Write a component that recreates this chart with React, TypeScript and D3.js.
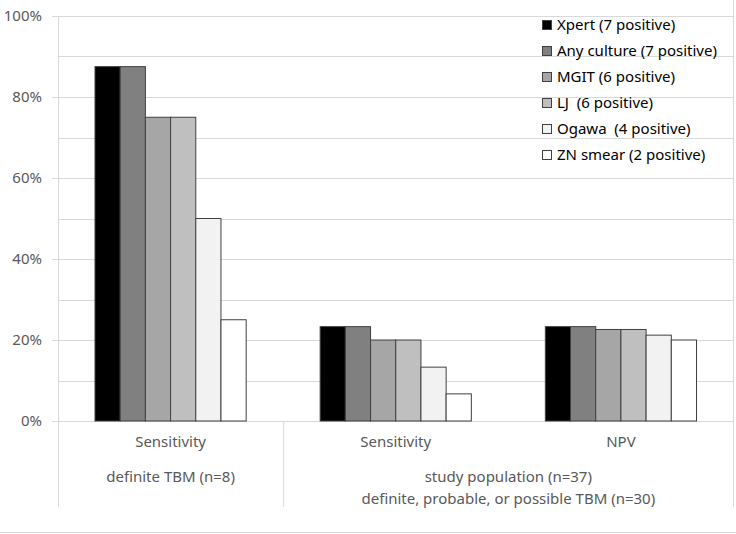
import React from "react";
import * as d3 from "d3";

const categories = ["Sensitivity (definite)", "Sensitivity (study)", "NPV"];
const categoryLabels = ["Sensitivity", "Sensitivity", "NPV"];
const seriesNames = [
  "Xpert (7 positive)",
  "Any culture (7 positive)",
  "MGIT (6 positive)",
  "LJ  (6 positive)",
  "Ogawa  (4 positive)",
  "ZN smear (2 positive)",
];
const seriesColors = ["#000000", "#808080", "#a6a6a6", "#bfbfbf", "#f2f2f2", "#ffffff"];
// values per series across categories
const xpert = [87.5, 23.3, 23.3];
const anyCulture = [87.5, 23.3, 23.3];
const mgit = [75, 20, 22.6];
const lj = [75, 20, 22.6];
const ogawa = [50, 13.3, 21.2];
const znSmear = [25, 6.7, 20];
const seriesValues = [xpert, anyCulture, mgit, lj, ogawa, znSmear];
const yTicks = [0, 20, 40, 60, 80, 100];
const yMinor = [10, 30, 50, 70, 90];

const W = 736;
const H = 534;
const left = 58;
const right = 733.5;
const top = 16;
const bottom = 421;
const font = "'Noto Sans', sans-serif";

export default function App() {
  const x0 = d3.scaleBand<string>().domain(categories).range([left, right]).paddingInner(0).paddingOuter(0);
  const groupPad = 37;
  const x1 = d3
    .scaleBand<string>()
    .domain(seriesNames)
    .range([0, x0.bandwidth() - 2 * groupPad])
    .padding(0);
  const y = d3.scaleLinear().domain([0, 100]).range([bottom, top]);
  const grid = "#d9d9d9";
  const txt = "#595959";
  const divX = x0(categories[1])!;
  const fs = 15;

  return (
    <svg width={W} height={H} style={{ position: "absolute", left: 0, top: 0 }} fontFamily={font}>
      <rect x={0} y={0} width={W} height={H} fill="#ffffff" />
      {/* outer border pieces */}
      <line x1={0} x2={W} y1={532.5} y2={532.5} stroke={grid} />
      <line x1={right} x2={right} y1={0} y2={507} stroke={grid} />
      {/* gridlines */}
      {[...yTicks, ...yMinor].map((t) => (
        <line key={"g" + t} x1={left} x2={right} y1={Math.round(y(t)) + 0.5} y2={Math.round(y(t)) + 0.5} stroke={grid} />
      ))}
      {/* ticks */}
      {yTicks.map((t) => (
        <g key={"t" + t}>
          <line x1={52} x2={left} y1={Math.round(y(t)) + 0.5} y2={Math.round(y(t)) + 0.5} stroke={grid} />
          <text x={42} y={y(t)} dy="0.35em" textAnchor="end" fontSize={fs} fill={txt}>
            {t}%
          </text>
        </g>
      ))}
      {/* axis + dividers */}
      <line x1={left + 0.5} x2={left + 0.5} y1={top} y2={507} stroke={grid} />
      <line x1={divX + 0.5} x2={divX + 0.5} y1={bottom} y2={507} stroke={grid} />
      {/* bars */}
      {categories.map((c, ci) => (
        <g key={c} transform={`translate(${x0(c)! + groupPad},0)`}>
          {seriesNames.map((s, si) => {
            const v = seriesValues[si][ci];
            return (
              <rect
                key={s}
                x={x1(s)!}
                y={y(v)}
                width={x1.bandwidth()}
                height={bottom - y(v)}
                fill={seriesColors[si]}
                stroke="#404040"
                strokeWidth={1}
              />
            );
          })}
        </g>
      ))}
      {/* category labels */}
      {categories.map((c, ci) => (
        <text key={"c" + c} x={x0(c)! + x0.bandwidth() / 2} y={442} dy="0.35em" textAnchor="middle" fontSize={fs} fill={txt}>
          {categoryLabels[ci]}
        </text>
      ))}
      <text x={(left + divX) / 2} y={477} dy="0.35em" textAnchor="middle" fontSize={fs} fill={txt}>
        definite TBM (n=8)
      </text>
      <text x={(divX + right) / 2} y={477} dy="0.35em" textAnchor="middle" fontSize={fs} fill={txt}>
        study population (n=37)
      </text>
      <text x={(divX + right) / 2} y={499} dy="0.35em" textAnchor="middle" fontSize={fs} fill={txt}>
        definite, probable, or possible TBM (n=30)
      </text>
      {/* legend */}
      {seriesNames.map((s, i) => {
        const ly = 25 + i * 26;
        return (
          <g key={"l" + s}>
            <rect x={542.5} y={ly - 4.5} width={9} height={9} fill={seriesColors[i]} stroke="#404040" />
            <text x={557} y={ly} dy="0.35em" fontSize={fs} fill="#000000" style={{ whiteSpace: "pre" }}>
              {s}
            </text>
          </g>
        );
      })}
    </svg>
  );
}
